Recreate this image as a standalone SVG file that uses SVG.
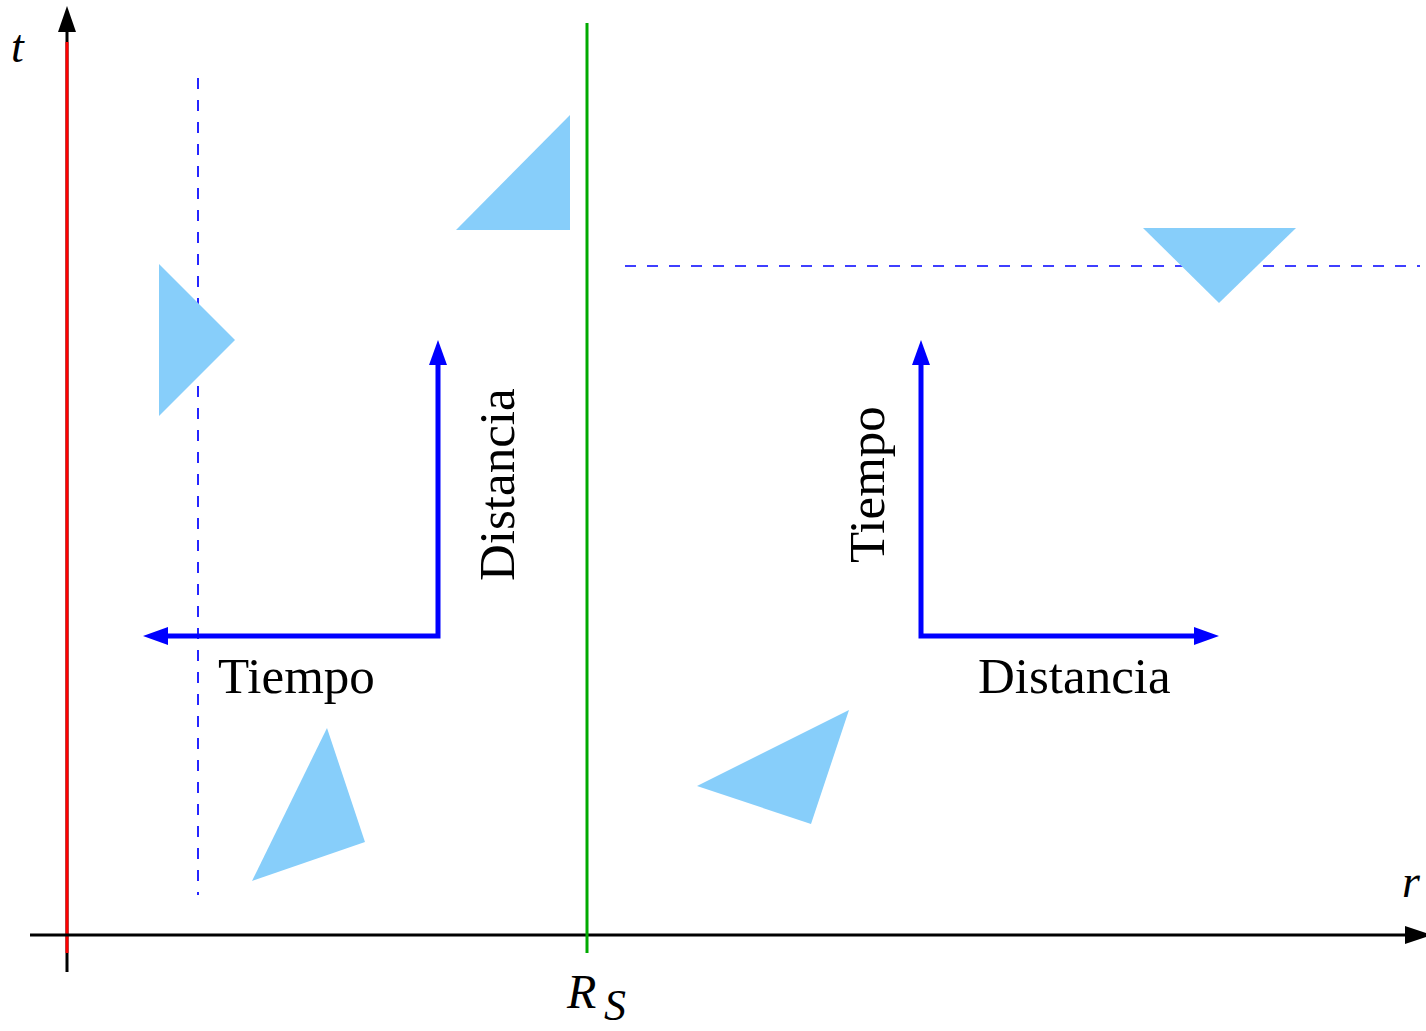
<svg xmlns="http://www.w3.org/2000/svg" width="1426" height="1031" viewBox="0 0 1426 1031">
<style>
.tri{fill:#87CEFA;stroke:none}
.dash{stroke:#0000FF;stroke-width:1.7;stroke-dasharray:11,11;fill:none}
.barrow{stroke:#0000FF;stroke-width:5;fill:none}
.lbl{font-family:"Liberation Serif","Times New Roman",serif;font-size:51px;fill:#000}
.ital{font-family:"Liberation Serif","Times New Roman",serif;font-style:italic;fill:#000}
</style>
<g id="axes">
<line x1="67" y1="972" x2="67" y2="30" stroke="#000" stroke-width="3"/>
<polygon points="67,6 58,32 76,32" fill="#000"/>
<line x1="67" y1="953" x2="67" y2="42" stroke="#FF0000" stroke-width="3"/>
<line x1="30" y1="935" x2="1405" y2="935" stroke="#000" stroke-width="3"/>
<polygon points="1432,935 1405,926 1405,944" fill="#000"/>
<line x1="587" y1="23" x2="587" y2="953" stroke="#00AA00" stroke-width="3"/>
<text class="ital" x="11" y="62" font-size="46">t</text>
<text class="ital" x="1402" y="897" font-size="46">r</text>
<text class="ital" x="567" y="1008" font-size="48">R</text>
<text class="ital" x="604" y="1020" font-size="44">S</text>
</g>
<g id="dashed">
<line class="dash" x1="198" y1="78" x2="198" y2="895"/>
<line class="dash" x1="625" y1="266" x2="1420" y2="266"/>
</g>
<g id="triangles">
<polygon class="tri" points="159,264 235,340 159,416"/>
<polygon class="tri" points="456,230 570,115 570,230"/>
<polygon class="tri" points="1143,228 1296,228 1219,303"/>
<polygon class="tri" points="327,728 365,842 252,881"/>
<polygon class="tri" points="697,786 849,710 811,824"/>
</g>
<g id="left-frame">
<polyline class="barrow" points="438,362 438,636 166,636"/>
<polygon points="438,340 429,365 447,365" fill="#0000FF"/>
<polygon points="143,636 168,627 168,645" fill="#0000FF"/>
<text class="lbl" x="218" y="693">Tiempo</text>
<text class="lbl" transform="translate(514,581) rotate(-90)">Distancia</text>
</g>
<g id="right-frame">
<polyline class="barrow" points="921,362 921,636 1196,636"/>
<polygon points="921,340 912,365 930,365" fill="#0000FF"/>
<polygon points="1219,636 1194,627 1194,645" fill="#0000FF"/>
<text class="lbl" x="978" y="693">Distancia</text>
<text class="lbl" transform="translate(884,563) rotate(-90)">Tiempo</text>
</g>
</svg>
